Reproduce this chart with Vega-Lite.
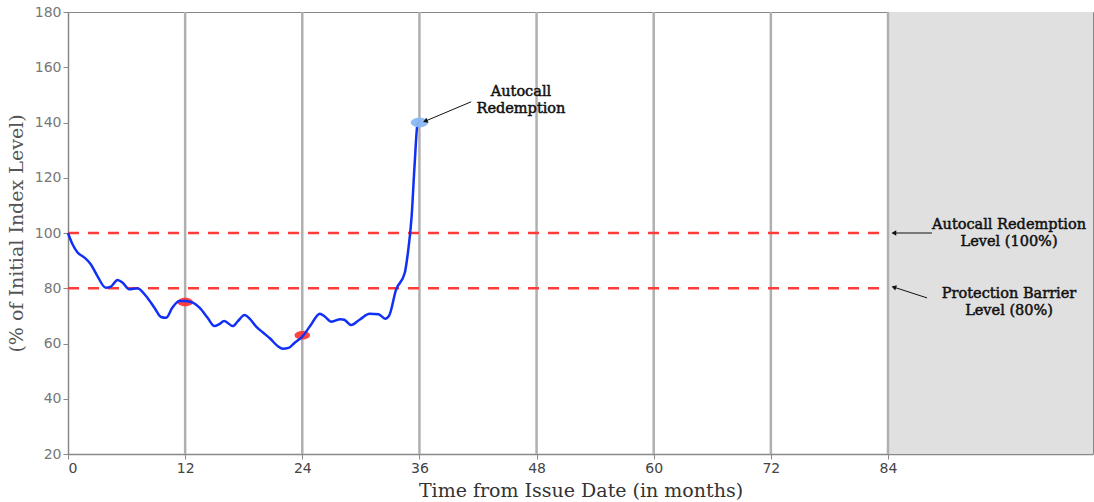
{
  "$schema": "https://vega.github.io/schema/vega-lite/v6.json",
  "width": 1025,
  "height": 442,
  "autosize": "none",
  "padding": {"left": 68, "top": 12, "right": 1, "bottom": 48},
  "background": "white",
  "config": {
    "view": {"stroke": "#888888", "strokeWidth": 1},
    "axis": {
      "domainColor": "#888888",
      "domainWidth": 1.5,
      "tickColor": "#888888",
      "tickSize": 5,
      "grid": false,
      "labelFont": "DejaVu Sans",
      "labelFontSize": 14,
      "titleFont": "DejaVu Serif",
      "titleFontSize": 19,
      "titleFontWeight": "normal"
    }
  },
  "datasets": {
    "path": [
      {"m": 0, "v": 100}, {"m": 0.45, "v": 96}, {"m": 0.96, "v": 93}, {"m": 1.65, "v": 91.2},
      {"m": 2.33, "v": 88.7}, {"m": 3.0, "v": 84.5}, {"m": 3.87, "v": 80.2}, {"m": 4.4, "v": 80.6},
      {"m": 5.07, "v": 83}, {"m": 5.6, "v": 82}, {"m": 6.27, "v": 79.6}, {"m": 7.1, "v": 80},
      {"m": 7.99, "v": 77.2}, {"m": 8.84, "v": 73}, {"m": 9.53, "v": 69.6}, {"m": 10.04, "v": 69.3},
      {"m": 10.7, "v": 73}, {"m": 11.4, "v": 75.4}, {"m": 12, "v": 75.4}, {"m": 12.79, "v": 74.8},
      {"m": 13.47, "v": 73}, {"m": 14.3, "v": 69.3}, {"m": 15.0, "v": 66.3}, {"m": 15.5, "v": 67},
      {"m": 16.0, "v": 68.1}, {"m": 16.9, "v": 66.3}, {"m": 17.4, "v": 68.1}, {"m": 18.1, "v": 70.3},
      {"m": 18.6, "v": 69}, {"m": 19.3, "v": 66}, {"m": 20.0, "v": 63.9}, {"m": 20.7, "v": 61.8},
      {"m": 21.5, "v": 59}, {"m": 22.0, "v": 58.1}, {"m": 22.6, "v": 58.4}, {"m": 23.2, "v": 60.2},
      {"m": 24, "v": 62.5}, {"m": 24.8, "v": 66.3}, {"m": 25.8, "v": 70.8}, {"m": 26.3, "v": 69.8},
      {"m": 27.0, "v": 67.9}, {"m": 27.9, "v": 68.8}, {"m": 28.3, "v": 68.6}, {"m": 29.0, "v": 66.7},
      {"m": 29.9, "v": 68.7}, {"m": 30.9, "v": 70.8}, {"m": 31.8, "v": 70.6}, {"m": 32.5, "v": 69.0},
      {"m": 32.9, "v": 70.1}, {"m": 33.6, "v": 79.4}, {"m": 34.5, "v": 85.6}, {"m": 34.8, "v": 92.3},
      {"m": 35.2, "v": 105.9}, {"m": 35.5, "v": 124.4}, {"m": 35.8, "v": 139.3}, {"m": 36, "v": 140.5}
    ],
    "obs": [
      {"m": 12, "v": 75, "kind": "below"},
      {"m": 24, "v": 63, "kind": "below"},
      {"m": 36, "v": 140, "kind": "autocall"}
    ],
    "dates": [{"m": 12}, {"m": 24}, {"m": 36}, {"m": 48}, {"m": 60}, {"m": 72}, {"m": 84}],
    "levels": [{"v": 100}, {"v": 80}],
    "arrows": [
      {"id": "a1", "x": 41.3, "y": 147.5, "x2": 36.6, "y2": 140.5},
      {"id": "a2", "x": 88.5, "y": 100, "x2": 84.6, "y2": 100},
      {"id": "a3", "x": 88.0, "y": 76.5, "x2": 84.6, "y2": 80.4}
    ],
    "notes": [
      {"m": 46.4, "v": 151.2, "t": "Autocall\nRedemption"},
      {"m": 96.4, "v": 102.9, "t": "Autocall Redemption\nLevel (100%)"},
      {"m": 96.4, "v": 77.9, "t": "Protection Barrier\nLevel (80%)"}
    ]
  },
  "layer": [
    {
      "data": {"values": [{"a": 84, "b": 105}]},
      "mark": {"type": "rect", "color": "#e0e0e0"},
      "encoding": {
        "x": {"field": "a", "type": "quantitative", "scale": {"domain": [0, 105], "nice": false, "zero": false},
          "axis": {"values": [0, 12, 24, 36, 48, 60, 72, 84], "title": "Time from Issue Date (in months)", "labelColor": "#444444", "titleColor": "#333333", "titlePadding": 6}},
        "x2": {"field": "b"},
        "y": {"datum": 20, "type": "quantitative", "scale": {"domain": [20, 180], "nice": false, "zero": false},
          "axis": {"values": [20, 40, 60, 80, 100, 120, 140, 160, 180], "title": "(% of Initial Index Level)", "labelColor": "#777777", "titleColor": "#555555", "titlePadding": 8}},
        "y2": {"datum": 180}
      }
    },
    {
      "data": {"name": "dates"},
      "mark": {"type": "rule", "color": "#b0b0b0", "strokeWidth": 2.5},
      "encoding": {"x": {"field": "m", "type": "quantitative"}}
    },
    {
      "data": {"name": "levels"},
      "mark": {"type": "rule", "color": "#ff3b3b", "strokeWidth": 2.5, "strokeDash": [11, 9]},
      "encoding": {
        "y": {"field": "v", "type": "quantitative"},
        "x": {"datum": 0, "type": "quantitative"},
        "x2": {"datum": 84}
      }
    },
    {
      "data": {"name": "obs"},
      "transform": [{"filter": "datum.kind == 'below'"}],
      "mark": {"type": "point", "filled": true, "color": "#ff3030", "opacity": 0.9, "size": 240, "shape": "M-1,0A1,0.55 0 1,0 1,0A1,0.55 0 1,0 -1,0Z"},
      "encoding": {"x": {"field": "m", "type": "quantitative"}, "y": {"field": "v", "type": "quantitative"}}
    },
    {
      "data": {"name": "path"},
      "mark": {"type": "line", "color": "#1030f5", "strokeWidth": 2.5, "interpolate": "monotone"},
      "encoding": {"x": {"field": "m", "type": "quantitative"}, "y": {"field": "v", "type": "quantitative"}}
    },
    {
      "data": {"name": "obs"},
      "transform": [{"filter": "datum.kind == 'autocall'"}],
      "mark": {"type": "point", "filled": true, "color": "#8ab8f2", "opacity": 0.95, "size": 300, "shape": "M-1,0A1,0.55 0 1,0 1,0A1,0.55 0 1,0 -1,0Z"},
      "encoding": {"x": {"field": "m", "type": "quantitative"}, "y": {"field": "v", "type": "quantitative"}}
    },
    {
      "data": {"name": "arrows"},
      "mark": {"type": "rule", "color": "#111111", "strokeWidth": 1},
      "encoding": {
        "x": {"field": "x", "type": "quantitative"}, "y": {"field": "y", "type": "quantitative"},
        "x2": {"field": "x2"}, "y2": {"field": "y2"}
      }
    },
    {
      "data": {"name": "arrows"},
      "transform": [{"filter": "datum.id == 'a1'"}],
      "mark": {"type": "point", "shape": "triangle-left", "filled": true, "color": "#111111", "opacity": 1, "size": 30, "angle": 336.5},
      "encoding": {"x": {"field": "x2", "type": "quantitative"}, "y": {"field": "y2", "type": "quantitative"}}
    },
    {
      "data": {"name": "arrows"},
      "transform": [{"filter": "datum.id == 'a2'"}],
      "mark": {"type": "point", "shape": "triangle-left", "filled": true, "color": "#111111", "opacity": 1, "size": 30, "angle": 0},
      "encoding": {"x": {"field": "x2", "type": "quantitative"}, "y": {"field": "y2", "type": "quantitative"}}
    },
    {
      "data": {"name": "arrows"},
      "transform": [{"filter": "datum.id == 'a3'"}],
      "mark": {"type": "point", "shape": "triangle-left", "filled": true, "color": "#111111", "opacity": 1, "size": 30, "angle": 18.4},
      "encoding": {"x": {"field": "x2", "type": "quantitative"}, "y": {"field": "y2", "type": "quantitative"}}
    },
    {
      "data": {"name": "notes"},
      "mark": {"type": "text", "font": "DejaVu Serif", "fontWeight": "normal", "fontSize": 14.5, "color": "#111111", "stroke": "#111111", "strokeWidth": 0.5, "lineBreak": "\n", "lineHeight": 17, "align": "center", "baseline": "middle"},
      "encoding": {
        "x": {"field": "m", "type": "quantitative"}, "y": {"field": "v", "type": "quantitative"},
        "text": {"field": "t"}
      }
    }
  ]
}
